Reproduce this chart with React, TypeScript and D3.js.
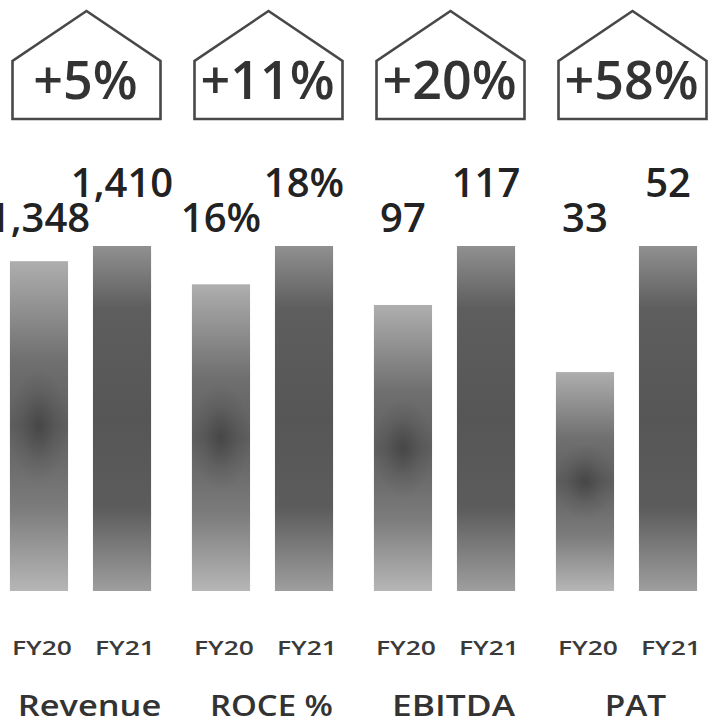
import { useMemo } from 'react';
import * as d3 from 'd3';

// ---- data ------------------------------------------------------------------
const categories = ['Revenue', 'ROCE %', 'EBITDA', 'PAT'];
const years = ['FY20', 'FY21'];
const fy20Values = [1348, 16, 97, 33];
const fy21Values = [1410, 18, 117, 52];
const valueLabels20 = ['1,348', '16%', '97', '33'];
const valueLabels21 = ['1,410', '18%', '117', '52'];
const growthLabels = ['+5%', '+11%', '+20%', '+58%'];

const W = 722;
const H = 720;
const BASE = 591;
const TOP = 246;

export default function App() {
  const x = useMemo(
    () => d3.scaleBand<string>().domain(categories).range([-10.5, 717.5]).padding(0),
    []
  );
  const xi = useMemo(
    () =>
      d3.scaleBand<string>()
        .domain(years)
        .range([0, x.bandwidth()])
        .paddingInner(0.3)
        .paddingOuter(0.246),
    [x]
  );

  const houseW = 148;
  const roofY = 11;
  const eaveY = 61;
  const floorY = 119;

  return (
    <svg
      width={W}
      height={H}
      style={{ position: 'absolute', left: 0, top: 0, background: '#fff' }}
    >
      <defs>
        <linearGradient id="fy20Lin" x1="0" y1="0" x2="0" y2="1">
          <stop offset="0%" stopColor="#aeaeae" />
          <stop offset="30%" stopColor="#707070" />
          <stop offset="50%" stopColor="#5e5e5e" />
          <stop offset="75%" stopColor="#7c7c7c" />
          <stop offset="100%" stopColor="#b6b6b6" />
        </linearGradient>
        <radialGradient id="fy20Spot" cx="0.5" cy="0.5" r="0.5" gradientTransform="translate(0.5 0.5) scale(1 0.35) translate(-0.5 -0.5)">
          <stop offset="0%" stopColor="#2a2a2a" stopOpacity={0.45} />
          <stop offset="60%" stopColor="#2a2a2a" stopOpacity={0.12} />
          <stop offset="100%" stopColor="#2a2a2a" stopOpacity={0} />
        </radialGradient>
        <linearGradient id="fy21Lin" x1="0" y1="0" x2="0" y2="1">
          <stop offset="0%" stopColor="#909090" />
          <stop offset="18%" stopColor="#5e5e5e" />
          <stop offset="50%" stopColor="#565656" />
          <stop offset="76%" stopColor="#5c5c5c" />
          <stop offset="100%" stopColor="#9e9e9e" />
        </linearGradient>
      </defs>

      {categories.map((cat, i) => {
        const gx = x(cat) || 0;
        const y = d3.scaleLinear().domain([0, Math.max(fy20Values[i], fy21Values[i])]).range([BASE, TOP]);
        const cx = gx + x.bandwidth() / 2 + 6;
        const hl = cx - houseW / 2;
        const hr = cx + houseW / 2;
        const housePath = `M${hl},${floorY} L${hl},${eaveY} L${cx},${roofY} L${hr},${eaveY} L${hr},${floorY} Z`;
        const vals = [fy20Values[i], fy21Values[i]];
        const labs = [valueLabels20[i], valueLabels21[i]];
        return (
          <g key={cat}>
            <path d={housePath} fill="#fff" stroke="#484848" strokeWidth={2.6} strokeLinejoin="miter" />
            <text
              x={cx - 1}
              y={99}
              textAnchor="middle"
              fontFamily="'Open Sans', sans-serif"
              fontWeight={600}
              fontSize={52}
              fill="#333"
            >
              {growthLabels[i]}
            </text>

            {years.map((yr, j) => {
              const bx = gx + (xi(yr) || 0);
              const bw = xi.bandwidth();
              const by = y(vals[j]);
              const bh = BASE - by;
              return (
                <g key={yr}>
                  <rect x={bx} y={by} width={bw} height={bh} fill={j === 0 ? 'url(#fy20Lin)' : 'url(#fy21Lin)'} />
                  {j === 0 && <rect x={bx} y={by} width={bw} height={bh} fill="url(#fy20Spot)" />}
                  <text
                    x={bx + bw / 2}
                    y={j === 0 ? 232 : 197}
                    textAnchor="middle"
                    fontFamily="'Open Sans', sans-serif"
                    fontWeight={600}
                    fontSize={40}
                    fill="#222"
                  >
                    {labs[j]}
                  </text>
                  <text
                    x={bx + bw / 2 + 3}
                    y={655}
                    textAnchor="middle"
                    fontFamily="'Open Sans', sans-serif"
                    fontWeight={600}
                    fontSize={20}
                    fill="#3a3a3a"
                    textLength={yr.length * 15}
                    lengthAdjust="spacingAndGlyphs"
                  >
                    {yr}
                  </text>
                </g>
              );
            })}

            <text
              x={cx + 3}
              y={716}
              textAnchor="middle"
              fontFamily="'Open Sans', sans-serif"
              fontWeight={600}
              fontSize={28}
              fill="#333"
              textLength={cat.length * 20.5}
              lengthAdjust="spacingAndGlyphs"
            >
              {cat}
            </text>
          </g>
        );
      })}
    </svg>
  );
}
